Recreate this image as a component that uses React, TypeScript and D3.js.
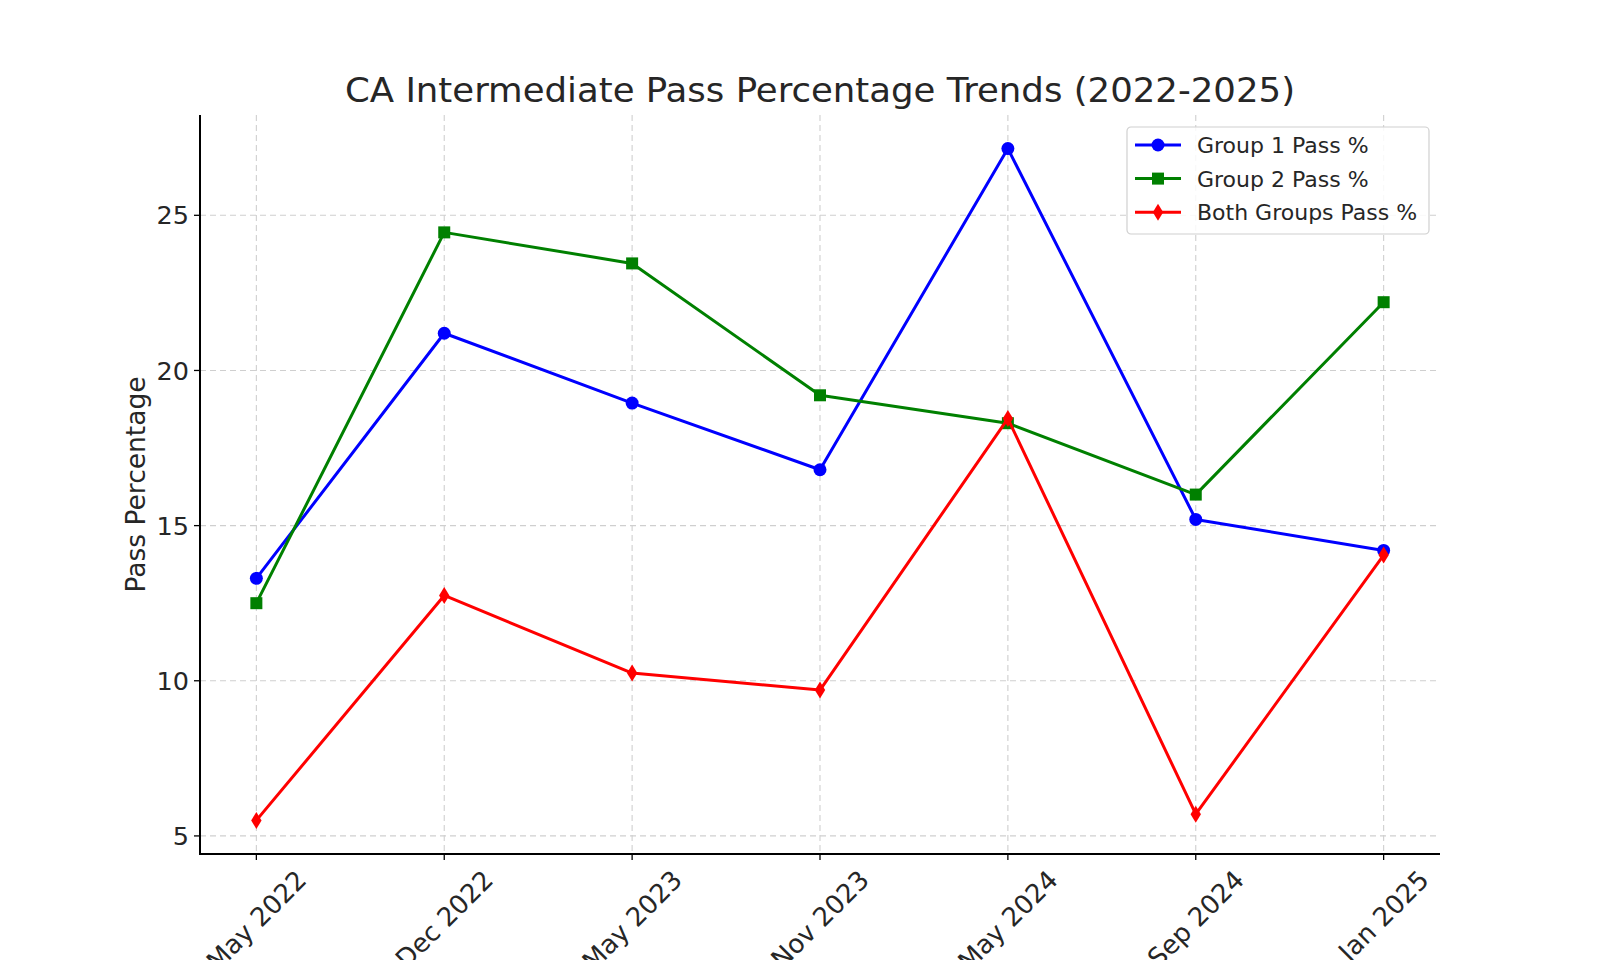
import { useRef, useEffect } from "react";
import * as d3 from "d3";

const sessions = ["May 2022", "Dec 2022", "May 2023", "Nov 2023", "May 2024", "Sep 2024", "Jan 2025"];
const group1 = [13.3, 21.2, 18.95, 16.8, 27.15, 15.2, 14.2];
const group2 = [12.5, 24.45, 23.45, 19.2, 18.3, 16.0, 22.2];
const bothGroups = [5.5, 12.75, 10.25, 9.7, 18.45, 5.7, 14.05];
const yTicks = [5, 10, 15, 20, 25];

const series = [
  { name: "Group 1 Pass %", values: group1, color: "#0000ff", marker: "circle" },
  { name: "Group 2 Pass %", values: group2, color: "#008000", marker: "square" },
  { name: "Both Groups Pass %", values: bothGroups, color: "#ff0000", marker: "diamond" },
];

const W = 1600;
const H = 960;
const FONT = "DejaVu Sans, sans-serif";

function drawMarker(g: any, kind: string, x: number, y: number, color: string) {
  if (kind === "circle") {
    g.append("circle").attr("cx", x).attr("cy", y).attr("r", 6.5).attr("fill", color);
  } else if (kind === "square") {
    g.append("rect")
      .attr("x", x - 6)
      .attr("y", y - 6)
      .attr("width", 12)
      .attr("height", 12)
      .attr("fill", color);
  } else {
    g.append("path")
      .attr("d", `M${x},${y - 8.5}L${x + 5.2},${y}L${x},${y + 8.5}L${x - 5.2},${y}Z`)
      .attr("fill", color);
  }
}

export default function App() {
  const svgRef = useRef<SVGSVGElement | null>(null);

  useEffect(() => {
    const svg = d3.select(svgRef.current);
    svg.selectAll("*").remove();

    const margin = { top: 115, right: 160, bottom: 106, left: 200 };
    const innerW = W - margin.left - margin.right;
    const innerH = H - margin.top - margin.bottom;

    const x = d3
      .scalePoint()
      .domain(sessions)
      .range([0, innerW])
      .padding(0.3);

    const allVals = [...group1, ...group2, ...bothGroups];
    const lo = d3.min(allVals)!;
    const hi = d3.max(allVals)!;
    const pad = (hi - lo) * 0.05;
    const y = d3.scaleLinear().domain([lo - pad, hi + pad]).range([innerH, 0]);

    svg.append("rect").attr("width", W).attr("height", H).attr("fill", "#fff");

    const g = svg.append("g").attr("transform", `translate(${margin.left},${margin.top})`);

    // grid
    g.append("g")
      .selectAll("line")
      .data(yTicks)
      .join("line")
      .attr("x1", 0)
      .attr("x2", innerW)
      .attr("y1", (d) => y(d))
      .attr("y2", (d) => y(d))
      .attr("stroke", "#cfcfcf")
      .attr("stroke-width", 1.1)
      .attr("stroke-dasharray", "6,4");
    g.append("g")
      .selectAll("line")
      .data(sessions)
      .join("line")
      .attr("x1", (d) => x(d)!)
      .attr("x2", (d) => x(d)!)
      .attr("y1", 0)
      .attr("y2", innerH)
      .attr("stroke", "#cfcfcf")
      .attr("stroke-width", 1.1)
      .attr("stroke-dasharray", "6,4");

    // series
    series.forEach((s) => {
      const line = d3
        .line<number>()
        .x((_, i) => x(sessions[i])!)
        .y((d) => y(d));
      g.append("path")
        .datum(s.values)
        .attr("fill", "none")
        .attr("stroke", s.color)
        .attr("stroke-width", 3)
        .attr("stroke-linejoin", "round")
        .attr("d", line);
      const mg = g.append("g");
      s.values.forEach((v, i) => drawMarker(mg, s.marker, x(sessions[i])!, y(v), s.color));
    });

    // axes
    g.append("line")
      .attr("x1", 0)
      .attr("x2", 0)
      .attr("y1", 0)
      .attr("y2", innerH)
      .attr("stroke", "#000")
      .attr("stroke-width", 2);
    g.append("line")
      .attr("x1", -1)
      .attr("x2", innerW)
      .attr("y1", innerH)
      .attr("y2", innerH)
      .attr("stroke", "#000")
      .attr("stroke-width", 2);

    yTicks.forEach((t) => {
      g.append("line")
        .attr("x1", -6)
        .attr("x2", 0)
        .attr("y1", y(t))
        .attr("y2", y(t))
        .attr("stroke", "#000")
        .attr("stroke-width", 1.3);
      g.append("text")
        .attr("x", -11)
        .attr("y", y(t))
        .attr("dy", "0.36em")
        .attr("text-anchor", "end")
        .attr("font-family", FONT)
        .attr("font-size", 25.5)
        .attr("fill", "#262626")
        .text(t);
    });

    sessions.forEach((s) => {
      const cx = x(s)!;
      g.append("line")
        .attr("x1", cx)
        .attr("x2", cx)
        .attr("y1", innerH)
        .attr("y2", innerH + 6)
        .attr("stroke", "#000")
        .attr("stroke-width", 1.3);
      const t = g
        .append("text")
        .attr("text-anchor", "middle")
        .attr("dominant-baseline", "central")
        .attr("font-family", FONT)
        .attr("font-size", 26)
        .attr("fill", "#262626")
        .text(s);
      const len = (t.node() as SVGTextElement).getComputedTextLength();
      const half = ((len + 26) * Math.SQRT1_2) / 2;
      t.attr("transform", `translate(${cx},${innerH + 12 + half}) rotate(-45)`);
    });

    // y label
    svg
      .append("text")
      .attr("transform", `translate(135,${margin.top + innerH / 2}) rotate(-90)`)
      .attr("text-anchor", "middle")
      .attr("dominant-baseline", "central")
      .attr("font-family", FONT)
      .attr("font-size", 26.5)
      .attr("fill", "#262626")
      .text("Pass Percentage");

    // title
    svg
      .append("text")
      .attr("x", margin.left + innerW / 2)
      .attr("y", 102)
      .attr("text-anchor", "middle")
      .attr("font-family", FONT)
      .attr("font-size", 34)
      .attr("textLength", 950)
      .attr("lengthAdjust", "spacingAndGlyphs")
      .attr("fill", "#262626")
      .text("CA Intermediate Pass Percentage Trends (2022-2025)");

    // legend
    const lg = svg.append("g").attr("transform", "translate(1127,127)");
    lg.append("rect")
      .attr("width", 302)
      .attr("height", 107)
      .attr("rx", 4)
      .attr("fill", "#fff")
      .attr("fill-opacity", 0.85)
      .attr("stroke", "#d0d0d0")
      .attr("stroke-width", 1.2);
    series.forEach((s, i) => {
      const cy = 18 + i * 33.6;
      lg.append("line")
        .attr("x1", 8)
        .attr("x2", 54)
        .attr("y1", cy)
        .attr("y2", cy)
        .attr("stroke", s.color)
        .attr("stroke-width", 3);
      drawMarker(lg, s.marker, 31, cy, s.color);
      lg.append("text")
        .attr("x", 70)
        .attr("y", cy)
        .attr("dy", "0.36em")
        .attr("font-family", FONT)
        .attr("font-size", 22)
        .attr("fill", "#262626")
        .text(s.name);
    });
  }, []);

  return (
    <svg
      ref={svgRef}
      width={W}
      height={H}
      style={{ position: "absolute", top: 0, left: 0, display: "block" }}
    />
  );
}
